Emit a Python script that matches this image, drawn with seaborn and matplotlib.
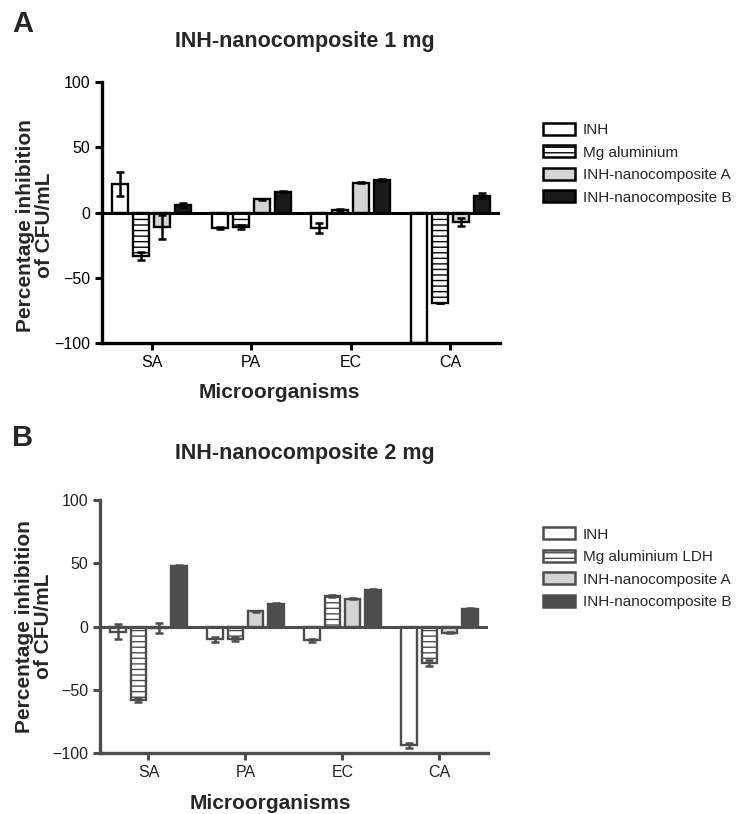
import pandas as pd
import matplotlib
matplotlib.use('Agg')
import matplotlib.pyplot as plt
import seaborn as sns
from matplotlib.patches import Patch

# Step 1: data
organisms = ['SA', 'PA', 'EC', 'CA']

# Panel A - INH-nanocomposite 1 mg
groups_1mg = ['INH', 'Mg aluminium', 'INH-nanocomposite A', 'INH-nanocomposite B']
inh_1mg = [22, -12, -12, -100]
mg_1mg = [-33, -11, 2, -69]
nanoA_1mg = [-11, 10, 23, -7]
nanoB_1mg = [6, 16, 25, 13]
inh_1mg_err = [9, 1, 4, 0]
mg_1mg_err = [3, 1.5, 1, 0]
nanoA_1mg_err = [9, 0.5, 0.5, 3]
nanoB_1mg_err = [1.5, 0.5, 0.5, 2]

# Panel B - INH-nanocomposite 2 mg
groups_2mg = ['INH', 'Mg aluminium LDH', 'INH-nanocomposite A', 'INH-nanocomposite B']
inh_2mg = [-4, -10, -11, -94]
mg_2mg = [-58, -10, 24, -29]
nanoA_2mg = [-1, 12, 22, -5]
nanoB_2mg = [48, 18, 29, 14]
inh_2mg_err = [6, 2, 1, 2]
mg_2mg_err = [1.5, 1.5, 1, 2.5]
nanoA_2mg_err = [4, 0.5, 0.5, 0.5]
nanoB_2mg_err = [0.5, 0.5, 0.5, 0.5]

sns.set_style('ticks')
plt.rcParams['font.family'] = ['Liberation Sans', 'DejaVu Sans']


def make_df(groups, values):
    rows = []
    for g, vals in zip(groups, values):
        for org, v in zip(organisms, vals):
            rows.append((org, g, v))
    return pd.DataFrame(rows, columns=['organism', 'group', 'value'])


def draw_panel(ax, groups, values, errs, edge, fills, label_color):
    df = make_df(groups, values)
    sns.barplot(data=df, x='organism', y='value', hue='group', order=organisms,
                hue_order=groups, palette=fills, saturation=1, width=0.84, gap=0.24,
                errorbar=None, edgecolor=edge, linewidth=1.7, legend=False, ax=ax)

    bar_conts = list(ax.containers)  # one container per hue level
    for i, cont in enumerate(bar_conts):
        if i == 1:
            for bar in cont:
                bar.set_hatch('---')
        xs = [b.get_x() + b.get_width() / 2 for b in cont]
        ax.errorbar(xs, values[i], yerr=errs[i], fmt='none', ecolor=edge,
                    elinewidth=1.8, capsize=3, capthick=1.8, zorder=3)

    ax.axhline(0, color=edge, lw=2.2, zorder=2.5)
    ax.set_ylim(-100, 100)
    ax.set_xlim(-0.5, 3.5)
    ax.set_yticks([-100, -50, 0, 50, 100])
    sns.despine(ax=ax)
    for s in ['left', 'bottom']:
        ax.spines[s].set_linewidth(2.4)
        ax.spines[s].set_color(edge)
    ax.tick_params(axis='both', length=5, width=2.2, color=edge,
                   labelsize=11.5, labelcolor=label_color)
    ax.set_xlabel('Microorganisms', fontsize=15, fontweight='bold')
    ax.set_ylabel('Percentage inhibition\nof CFU/mL', fontsize=15,
                  fontweight='bold', linespacing=1.0)

    handles = [Patch(facecolor=fills[j], edgecolor=edge, linewidth=1.8,
                     hatch='---' if j == 1 else None) for j in range(4)]
    return handles


fig = plt.figure(figsize=(7.39, 8.14), dpi=100)

# Panel A
axA = fig.add_axes([0.138, 0.5786, 0.5386, 0.3206])
fills_A = ['white', 'white', '#d4d4d4', '#1a1a1a']
hA = draw_panel(axA, groups_1mg, [inh_1mg, mg_1mg, nanoA_1mg, nanoB_1mg],
                [inh_1mg_err, mg_1mg_err, nanoA_1mg_err, nanoB_1mg_err],
                'black', fills_A, 'black')
axA.xaxis.set_label_coords(0.445, -0.155)
axA.yaxis.set_label_coords(-0.12, 0.45)
fig.text(0.412, 1 - 42 / 814, 'INH-nanocomposite 1 mg', ha='center', va='center',
         fontsize=15.5, fontweight='bold')
fig.text(12 / 739, 1 - 24 / 814, 'A', ha='left', va='center', fontsize=21, fontweight='bold')
fig.legend(hA, groups_1mg, loc='upper left', bbox_to_anchor=(0.716, 0.866), frameon=False,
           fontsize=11, handlelength=2.1, handleheight=0.8, labelspacing=0.55,
           handletextpad=0.5)

# Panel B
axB = fig.add_axes([0.1353, 0.0749, 0.525, 0.3108])
grey = '#4d4d4d'
fills_B = ['white', 'white', '#d4d4d4', grey]
hB = draw_panel(axB, groups_2mg, [inh_2mg, mg_2mg, nanoA_2mg, nanoB_2mg],
                [inh_2mg_err, mg_2mg_err, nanoA_2mg_err, nanoB_2mg_err],
                grey, fills_B, '#222222')
axB.xaxis.set_label_coords(0.438, -0.16)
axB.yaxis.set_label_coords(-0.12, 0.5)
fig.text(0.413, 1 - 453 / 814, 'INH-nanocomposite 2 mg', ha='center', va='center',
         fontsize=15.5, fontweight='bold')
fig.text(12 / 739, 1 - 438 / 814, 'B', ha='left', va='center', fontsize=21, fontweight='bold')
fig.legend(hB, groups_2mg, loc='upper left', bbox_to_anchor=(0.716, 0.369), frameon=False,
           fontsize=11, handlelength=2.1, handleheight=0.8, labelspacing=0.55,
           handletextpad=0.5)

plt.savefig('out.png', dpi=100)
